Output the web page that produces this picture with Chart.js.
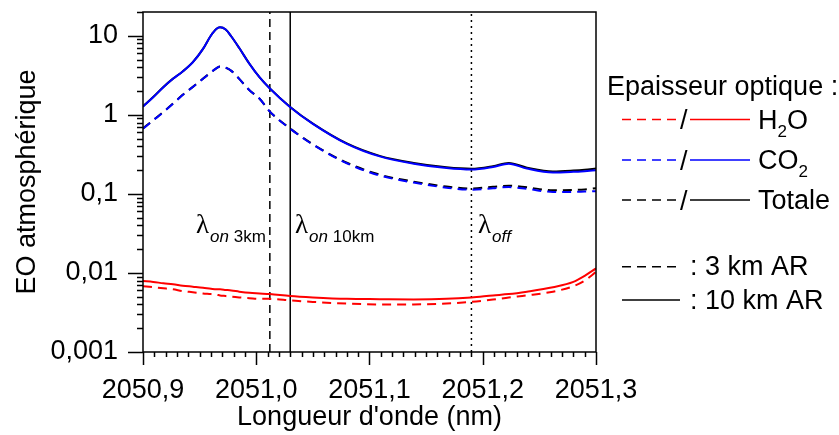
<!DOCTYPE html>
<html>
<head>
<meta charset="utf-8">
<script src="https://cdn.jsdelivr.net/npm/chart.js@4.4.1/dist/chart.umd.min.js"></script>
<style>
  html, body { margin: 0; padding: 0; background: #fff; }
</style>
</head>
<body>
<canvas id="chart" width="839" height="435"></canvas>
<script>
  // ── Data ──────────────────────────────────────────────────
  const WAVELENGTH = [2050.900, 2050.909, 2050.918, 2050.9265, 2050.935, 2050.944, 2050.953, 2050.960, 2050.965, 2050.968,
                      2050.973, 2050.978, 2050.985, 2050.994, 2051.003, 2051.012, 2051.030, 2051.050, 2051.080, 2051.109,
                      2051.139, 2051.168, 2051.190, 2051.209, 2051.223, 2051.239, 2051.262, 2051.280, 2051.290, 2051.300];

  const CO2_10KM = [1.27, 1.67, 2.24, 2.86, 3.53, 4.63, 6.83, 10.1, 12.3, 12.8,
                    12.0, 9.8, 7.0, 4.42, 2.97, 2.15, 1.25, 0.77, 0.43, 0.298,
                    0.241, 0.212, 0.203, 0.219, 0.241, 0.209, 0.186, 0.19, 0.194, 0.199];
  const CO2_3KM = [0.667, 0.85, 1.08, 1.38, 1.78, 2.25, 2.86, 3.45, 3.9, 4.1,
                   3.95, 3.6, 2.85, 2.05, 1.6, 1.1, 0.667, 0.42, 0.244, 0.171,
                   0.139, 0.120, 0.113, 0.118, 0.122, 0.116, 0.106, 0.106, 0.107, 0.108];
  const TOTAL_10KM = [1.28, 1.68, 2.25, 2.87, 3.54, 4.64, 6.84, 10.1, 12.3, 12.8,
                      12.0, 9.8, 7.0, 4.43, 2.98, 2.16, 1.26, 0.775, 0.435, 0.303,
                      0.246, 0.217, 0.208, 0.224, 0.246, 0.215, 0.192, 0.197, 0.202, 0.21];
  const TOTAL_3KM = [0.674, 0.856, 1.09, 1.39, 1.79, 2.26, 2.87, 3.45, 3.9, 4.1,
                     3.95, 3.6, 2.85, 2.05, 1.6, 1.1, 0.672, 0.424, 0.248, 0.175,
                     0.143, 0.124, 0.117, 0.123, 0.127, 0.121, 0.111, 0.112, 0.114, 0.118];
  const H2O_10KM = [0.0079, 0.0077, 0.0074, 0.0072, 0.0069, 0.0067, 0.0065, 0.0063, 0.0062, 0.0062,
                    0.0061, 0.0060, 0.0058, 0.0056, 0.0055, 0.0054, 0.0051, 0.0049, 0.0047, 0.00466,
                    0.00463, 0.0047, 0.0049, 0.0052, 0.0054, 0.0058, 0.0066, 0.0077, 0.0092, 0.0114];
  const H2O_3KM = [0.0068, 0.0066, 0.0064, 0.0062, 0.0059, 0.0057, 0.0055, 0.0054, 0.0053, 0.0052,
                   0.0051, 0.0050, 0.0049, 0.0048, 0.0047, 0.0047, 0.0045, 0.0043, 0.0041, 0.0040,
                   0.0040, 0.0041, 0.0043, 0.0046, 0.0049, 0.0052, 0.0058, 0.0068, 0.0080, 0.0103];

  // vertical markers: λon 3km, λon 10km, λoff
  const MARKER_X = [2051.012, 2051.030, 2051.190];
  const MARKER_SUB_ITALIC = ['on', 'on', 'off'];
  const MARKER_SUB_PLAIN = [' 3km', ' 10km', ''];

  const X_TICKS = [2050.9, 2051.0, 2051.1, 2051.2, 2051.3];
  const X_TICK_LABELS = ['2050,9', '2051,0', '2051,1', '2051,2', '2051,3'];
  const Y_TICKS = [0.001, 0.01, 0.1, 1, 10];
  const Y_TICK_LABELS = ['0,001', '0,01', '0,1', '1', '10'];
  const Y_MIN = 0.001, Y_MAX = 20;

  const LEGEND_TITLE = 'Epaisseur optique :';
  const LEGEND_SPECIES = [['H', '2', 'O'], ['CO', '2', ''], ['Totale', '', '']];
  const ALTITUDE_LABELS = [': 3 km AR', ': 10 km AR'];

  // ── Styles ────────────────────────────────────────────────
  const FONT = "'Liberation Sans', Arial, sans-serif";
  const SIZE = 27;
  const RED = '#ff0000', BLUE = '#0000ff', BLACK = '#000000';
  const SPECIES_COLORS = [RED, BLUE, BLACK];
  const DASH = [9, 6];

  function pts(ys) {
    return ys.map(function (y, i) { return { x: WAVELENGTH[i], y: y }; });
  }
  function curve(ys, color, dashed, order) {
    return {
      data: pts(ys), borderColor: color, borderWidth: 2,
      borderDash: dashed ? DASH : [], pointRadius: 0,
      cubicInterpolationMode: 'monotone', order: order
    };
  }
  function marker(i, dash) {
    return {
      data: [{ x: MARKER_X[i], y: Y_MIN }, { x: MARKER_X[i], y: Y_MAX }],
      borderColor: BLACK, borderWidth: 1.5, borderDash: dash,
      pointRadius: 0, order: 10
    };
  }

  // ── Plugins: frame + ticks, marker labels, legend ─────────
  const framePlugin = {
    id: 'frame',
    afterDraw: function (chart) {
      const ctx = chart.ctx, a = chart.chartArea;
      const xs = chart.scales.x, ys = chart.scales.y;
      ctx.save();
      ctx.strokeStyle = BLACK;
      ctx.lineWidth = 1.5;
      ctx.strokeRect(a.left, a.top, a.right - a.left, a.bottom - a.top);
      ctx.beginPath();
      // x ticks: minor every 0.01, major every 0.1
      for (let k = 0; k <= 40; k++) {
        const px = Math.round(xs.getPixelForValue(2050.9 + k * 0.01)) + 0.5;
        const len = k % 10 === 0 ? 13 : 5;
        ctx.moveTo(px, a.bottom);
        ctx.lineTo(px, a.bottom + len);
      }
      // y ticks: log minor
      for (let d = -3; d <= 1; d++) {
        for (let m = 1; m <= 9; m++) {
          const v = m * Math.pow(10, d);
          if (v > Y_MAX * 1.0001) continue;
          const py = Math.round(ys.getPixelForValue(v)) + 0.5;
          const len = m === 1 ? 15 : 6;
          ctx.moveTo(a.left - len, py);
          ctx.lineTo(a.left, py);
        }
      }
      ctx.stroke();
      ctx.restore();
    }
  };

  const labelPlugin = {
    id: 'markerLabels',
    afterDraw: function (chart) {
      const ctx = chart.ctx;
      const startX = [196, 295, 478];
      ctx.save();
      ctx.fillStyle = BLACK;
      ctx.textBaseline = 'alphabetic';
      ctx.textAlign = 'left';
      for (let i = 0; i < MARKER_X.length; i++) {
        let x = startX[i];
        ctx.font = "27px 'Liberation Serif', serif";
        ctx.fillText('λ', x, 233);
        x += ctx.measureText('λ').width + 1;
        ctx.font = "italic 17px " + FONT;
        ctx.fillText(MARKER_SUB_ITALIC[i], x, 241.5);
        x += ctx.measureText(MARKER_SUB_ITALIC[i]).width;
        ctx.font = "17px " + FONT;
        ctx.fillText(MARKER_SUB_PLAIN[i], x, 241.5);
      }
      ctx.restore();
    }
  };

  const legendPlugin = {
    id: 'sideLegend',
    afterDraw: function (chart) {
      const ctx = chart.ctx;
      ctx.save();
      ctx.fillStyle = BLACK;
      ctx.textAlign = 'left';
      ctx.textBaseline = 'alphabetic';
      ctx.font = SIZE + 'px ' + FONT;
      ctx.fillText(LEGEND_TITLE, 607, 95);

      const rowY = [119.5, 160, 200];
      ctx.lineWidth = 1.5;
      for (let i = 0; i < LEGEND_SPECIES.length; i++) {
        const y = rowY[i];
        ctx.strokeStyle = SPECIES_COLORS[i];
        ctx.setLineDash(DASH);
        ctx.beginPath(); ctx.moveTo(622, y); ctx.lineTo(676, y); ctx.stroke();
        ctx.setLineDash([]);
        ctx.beginPath(); ctx.moveTo(690, y); ctx.lineTo(750, y); ctx.stroke();
        ctx.fillStyle = BLACK;
        ctx.font = SIZE + 'px ' + FONT;
        ctx.fillText('/', 680, y + 9.5);
        const parts = LEGEND_SPECIES[i];
        let x = 758;
        ctx.fillText(parts[0], x, y + 9);
        x += ctx.measureText(parts[0]).width;
        if (parts[1]) {
          ctx.font = '17px ' + FONT;
          ctx.fillText(parts[1], x, y + 17);
          x += ctx.measureText(parts[1]).width;
          ctx.font = SIZE + 'px ' + FONT;
          ctx.fillText(parts[2], x, y + 9);
        }
      }

      const altY = [266.7, 300];
      ctx.strokeStyle = BLACK;
      for (let i = 0; i < ALTITUDE_LABELS.length; i++) {
        const y = altY[i];
        ctx.setLineDash(i === 0 ? DASH : []);
        ctx.beginPath(); ctx.moveTo(622, y); ctx.lineTo(i === 0 ? 676 : 680, y); ctx.stroke();
        ctx.setLineDash([]);
        ctx.font = SIZE + 'px ' + FONT;
        ctx.fillText(ALTITUDE_LABELS[i], 690, y + 8.5);
      }
      ctx.restore();
    }
  };

  // ── Chart ─────────────────────────────────────────────────
  new Chart(document.getElementById('chart').getContext('2d'), {
    type: 'line',
    data: {
      datasets: [
        curve(H2O_10KM, RED, false, 1),
        curve(H2O_3KM, RED, true, 1),
        curve(CO2_10KM, BLUE, false, 2),
        curve(CO2_3KM, BLUE, true, 2),
        curve(TOTAL_10KM, BLACK, false, 3),
        curve(TOTAL_3KM, BLACK, true, 3),
        marker(0, [8, 5]),
        marker(1, []),
        marker(2, [2, 4])
      ]
    },
    options: {
      responsive: false,
      animation: false,
      layout: { padding: { top: 12, right: 243, left: 0, bottom: 0 } },
      plugins: { legend: { display: false }, tooltip: { enabled: false } },
      scales: {
        x: {
          type: 'linear', min: 2050.9, max: 2051.3,
          afterBuildTicks: function (s) { s.ticks = X_TICKS.map(function (v) { return { value: v }; }); },
          afterFit: function (s) { s.height = 83; s.paddingLeft = 0; s.paddingRight = 0; },
          grid: { display: true, drawOnChartArea: false, drawTicks: false },
          border: { display: false },
          ticks: {
            padding: 22, color: BLACK, font: { family: FONT, size: SIZE }, maxRotation: 0,
            callback: function (v) { return X_TICK_LABELS[X_TICKS.indexOf(v)]; }
          },
          title: { display: true, text: "Longueur d'onde (nm)", color: BLACK, font: { family: FONT, size: SIZE }, padding: { top: 0, bottom: 1 } }
        },
        y: {
          type: 'logarithmic', min: Y_MIN, max: Y_MAX,
          afterBuildTicks: function (s) { s.ticks = Y_TICKS.map(function (v) { return { value: v }; }); },
          afterFit: function (s) { s.width = 143; s.paddingTop = 0; s.paddingBottom = 0; },
          grid: { display: true, drawOnChartArea: false, drawTicks: false },
          border: { display: false },
          ticks: {
            padding: 25, color: BLACK, font: { family: FONT, size: SIZE },
            callback: function (v) { return Y_TICK_LABELS[Y_TICKS.indexOf(v)]; }
          },
          title: { display: true, text: 'EO atmosphérique', color: BLACK, font: { family: FONT, size: SIZE }, padding: { top: 11, bottom: 0 } }
        }
      }
    },
    plugins: [framePlugin, labelPlugin, legendPlugin]
  });
</script>
</body>
</html>
